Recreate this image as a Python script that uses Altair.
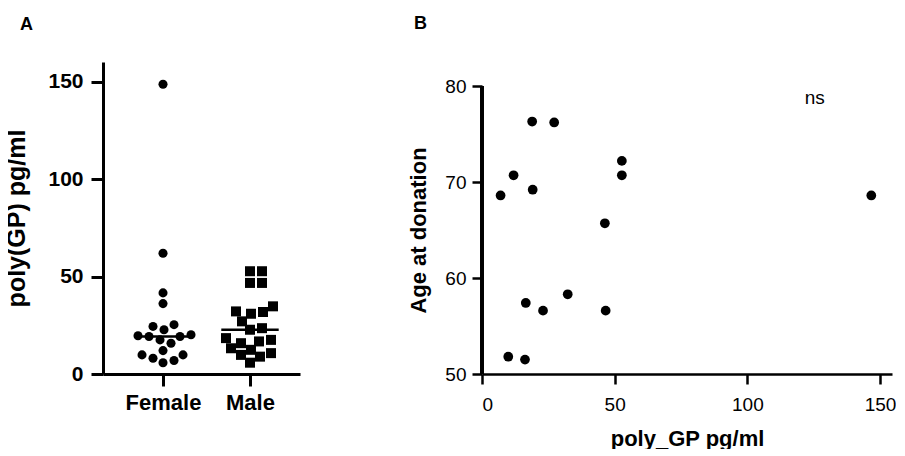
import altair as alt
import pandas as pd

# ---------------- data ----------------
groups = ["Female", "Male"]
female_vals = [148.6, 61.9, 41.6, 36.1, 25.3, 24.4, 22.7, 20.1, 19.6, 19.2,
               19.2, 17.5, 15.8, 12.0, 9.8, 9.8, 8.1, 6.9, 5.8]
male_vals = [52.7, 52.7, 46.7, 46.7, 34.7, 32.1, 31.8, 30.9, 27.0, 23.5,
             22.7, 18.4, 17.5, 16.7, 15.8, 13.2, 12.4, 10.7, 9.8, 8.9, 5.8]

polygp_b = [7.0, 11.9, 18.9, 27.2, 19.1, 52.7, 52.7, 46.3, 146.7,
            16.5, 23.0, 32.3, 46.6, 9.9, 16.2]
age_b = [68.6, 70.7, 76.3, 76.2, 69.2, 72.2, 70.7, 65.7, 68.6,
         57.4, 56.6, 58.3, 56.6, 51.8, 51.5]

FONT = "Liberation Sans"

# ---------------- panel A layout helpers ----------------
A_W, A_H = 197, 312
A_XDOM = [0.31, 2.575]
A_YDOM = [0, 160]
px_per_x = A_W / (A_XDOM[1] - A_XDOM[0])
px_per_y = A_H / (A_YDOM[1] - A_YDOM[0])


def swarm(values, diam):
    """Greedy beeswarm: returns horizontal pixel offsets."""
    order = sorted(range(len(values)), key=lambda i: values[i])
    placed = []
    offs = [0.0] * len(values)
    for i in order:
        y = values[i] * px_per_y
        chosen = None
        for k in range(0, 80):
            for s in ([0] if k == 0 else [k, -k]):
                x = s * 1.0
                if all((x - px) ** 2 + (y - py) ** 2 >= diam ** 2 for px, py in placed):
                    chosen = x
                    break
            if chosen is not None:
                break
        placed.append((chosen, y))
        offs[i] = chosen
    return offs


rows = []
for gi, (g, vals, d) in enumerate([("Female", female_vals, 10.6), ("Male", male_vals, 11.2)]):
    offs = swarm(vals, d)
    for v, o in zip(vals, offs):
        rows.append({"group": g, "center": gi + 1, "value": v, "xpos": gi + 1 + o / px_per_x})
dfA = pd.DataFrame(rows)

axisA_y = alt.Axis(values=[0, 50, 100, 150], title="poly(GP) pg/ml", grid=False,
                   domainColor="black", domainWidth=3, tickColor="black", tickWidth=3,
                   tickSize=12, labelFont=FONT, labelFontSize=21, labelFontWeight="bold",
                   labelColor="black", labelPadding=8, titleFont=FONT, titleFontSize=25,
                   titleFontWeight="bold", titleColor="black", titlePadding=18)
axisA_x = alt.Axis(values=[1, 2], title=None, grid=False,
                   labelExpr="datum.value == 1 ? 'Female' : 'Male'",
                   domainColor="black", domainWidth=3, tickColor="black", tickWidth=3,
                   tickSize=12, labelFont=FONT, labelFontSize=22, labelFontWeight="bold",
                   labelColor="black", labelPadding=6)

scAx = alt.Scale(domain=A_XDOM, nice=False, zero=False)
scAy = alt.Scale(domain=A_YDOM, nice=False)
xA = alt.X("xpos:Q", scale=scAx, axis=axisA_x)
yA = alt.Y("value:Q", scale=scAy, axis=axisA_y)

baseA = alt.Chart(dfA)
fem = baseA.transform_filter("datum.group == 'Female'").mark_point(
    shape="circle", filled=True, color="black", opacity=1, size=82).encode(x=xA, y=yA)
mal = baseA.transform_filter("datum.group == 'Male'").mark_point(
    shape="square", filled=True, color="black", opacity=1, size=100).encode(x=xA, y=yA)
med = baseA.transform_aggregate(
    med="median(value)", groupby=["group", "center"]
).transform_calculate(
    lo="datum.center - 0.33", hi="datum.center + 0.33"
).mark_rule(color="black", strokeWidth=2.5).encode(
    x=alt.X("lo:Q", scale=scAx, axis=axisA_x),
    x2="hi:Q",
    y=alt.Y("med:Q", scale=scAy, axis=axisA_y))

panelA = alt.layer(fem, mal, med).properties(
    width=A_W, height=A_H,
    title=alt.TitleParams("A", anchor="start", frame="group", dx=-83, offset=14,
                          baseline="alphabetic", font=FONT, fontSize=18,
                          fontWeight="bold", color="black"))

# ---------------- panel B ----------------
B_W, B_H = 410, 312
B_XDOM = [0, 154.5]
B_YDOM = [50, 82.5]
dfB = pd.DataFrame({"poly": polygp_b, "age": age_b})

axisB_x = alt.Axis(values=[0, 50, 100, 150], title="poly_GP pg/ml", grid=False,
                   domainColor="black", domainWidth=2.5, tickColor="black", tickWidth=2.5,
                   tickSize=10, labelFont=FONT, labelFontSize=19, labelColor="black",
                   labelPadding=11, titleFont=FONT, titleFontSize=22, titleFontWeight="bold",
                   titleColor="black", titlePadding=14)
axisB_y = alt.Axis(values=[50, 60, 70, 80], title="Age at donation", grid=False,
                   domain=False, tickColor="black", tickWidth=2.5, tickSize=10,
                   labelFont=FONT, labelFontSize=19, labelColor="black", labelPadding=6,
                   titleFont=FONT, titleFontSize=22, titleFontWeight="bold",
                   titleColor="black", titlePadding=14, titleY=168)

scBx = alt.Scale(domain=B_XDOM, nice=False, zero=False)
scBy = alt.Scale(domain=B_YDOM, nice=False, zero=False)
xB = alt.X("poly:Q", scale=scBx, axis=axisB_x)
yB = alt.Y("age:Q", scale=scBy, axis=axisB_y)

ptsB = alt.Chart(dfB).mark_point(shape="circle", filled=True, color="black",
                                 opacity=1, size=95).encode(x=xB, y=yB)
yline = alt.Chart(dfB).mark_rule(color="black", strokeWidth=2.5).encode(
    x=alt.XDatum(0, scale=scBx, axis=axisB_x),
    y=alt.YDatum(50, scale=scBy, axis=axisB_y),
    y2=alt.Y2Datum(80))
ns = alt.Chart(dfB).transform_aggregate(n="count()").mark_text(
    text="ns", font=FONT, fontSize=19, color="black").encode(
    x=alt.XDatum(125.4, scale=scBx, axis=axisB_x),
    y=alt.YDatum(78.8, scale=scBy, axis=axisB_y))

panelB = alt.layer(ptsB, yline, ns).properties(
    width=B_W, height=B_H,
    title=alt.TitleParams("B", anchor="start", frame="group", dx=-68, offset=15,
                          baseline="alphabetic", font=FONT, fontSize=18,
                          fontWeight="bold", color="black"))

chart = alt.hconcat(panelA, panelB, spacing=182, bounds="flush").configure_view(
    stroke=None).properties(background="white", padding={"left": -4, "top": 7, "right": 0, "bottom": 0})

chart.save("out.html", embed_options={"renderer": "svg", "actions": False})
